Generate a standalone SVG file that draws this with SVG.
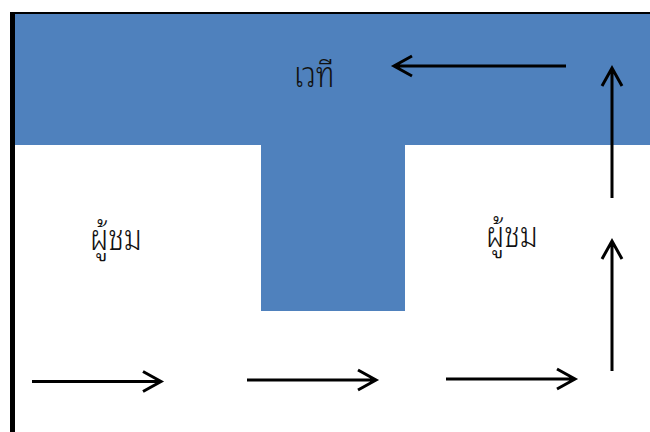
<svg xmlns="http://www.w3.org/2000/svg" width="650" height="432" viewBox="0 0 650 432">
<style>
.stage{fill:#4F81BD}
.lbl{font-family:"Noto Sans Thai Looped","Noto Sans Thai","Noto Sans",sans-serif;font-size:29px;font-weight:300;fill:#111;text-anchor:middle}
.arr{stroke:#000;stroke-width:3;fill:none;stroke-linecap:butt;stroke-linejoin:miter}
</style>
<rect width="650" height="432" fill="#fff"/>
<g id="stage">
<rect class="stage" x="12" y="13" width="638" height="132"/>
<rect class="stage" x="261" y="144" width="144" height="167"/>
<text class="lbl" transform="translate(314 87) scale(1 1.25)">เวที</text>
</g>
<g id="border">
<line x1="11" y1="13" x2="650" y2="13" stroke="#000" stroke-width="2"/>
<line x1="12.5" y1="12" x2="12.5" y2="432" stroke="#000" stroke-width="5"/>
</g>
<g id="audience-left"><text class="lbl" transform="translate(116 250) scale(1 1.25)">ผู้ชม</text></g>
<g id="audience-right"><text class="lbl" transform="translate(512 247) scale(1 1.25)">ผู้ชม</text></g>
<g id="connectors">
<path class="arr" d="M32 381.5H161M143 371.5L161 381.5L143 391.5"/>
<path class="arr" d="M247 380H376M358 370L376 380L358 390"/>
<path class="arr" d="M446 379H575M557 369L575 379L557 389"/>
<path class="arr" d="M612 371V241M602 259L612 241L622 259"/>
<path class="arr" d="M612 198V68M602 86L612 68L622 86"/>
<path class="arr" d="M566 66H394M412 56L394 66L412 76"/>
</g>
</svg>
